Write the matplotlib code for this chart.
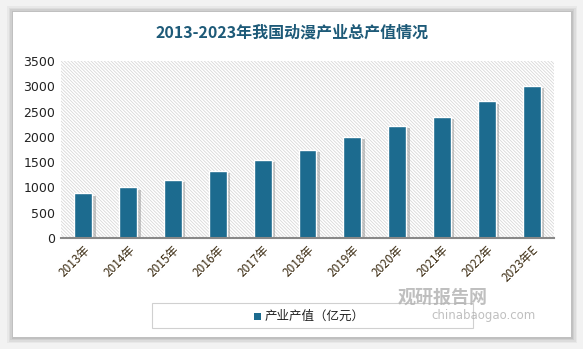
import matplotlib.pyplot as plt
from matplotlib.patches import Rectangle
import matplotlib.patheffects as pe

plt.rcParams['font.family'] = ['Noto Sans CJK SC', 'DejaVu Sans']
plt.rcParams['hatch.color'] = '#d8d8d8'
plt.rcParams['hatch.linewidth'] = 0.6

years = ['2013年', '2014年', '2015年', '2016年', '2017年', '2018年',
         '2019年', '2020年', '2021年', '2022年', '2023年E']
values = [880, 1000, 1140, 1320, 1536, 1750, 1990, 2210, 2390, 2700, 3000]
yticks = [0, 500, 1000, 1500, 2000, 2500, 3000, 3500]

bar_color = '#1c6b8f'

fig = plt.figure(figsize=(5.83, 3.49), dpi=100)
fig.patch.set_facecolor('#f2f2f2')

# white card with soft shadow
for i, a in enumerate([0.04, 0.05, 0.06, 0.07]):
    d = (4 - i) * 1.5
    fig.patches.append(Rectangle((13 / 583 - d / 583, 1 - 337 / 349 - d / 349),
                                 558 / 583 + 2 * d / 583, 325 / 349 + 2 * d / 349,
                                 transform=fig.transFigure, facecolor='#000000',
                                 alpha=a, edgecolor='none', zorder=-2))
fig.patches.append(Rectangle((13 / 583, 1 - 337 / 349), 558 / 583, 325 / 349,
                             transform=fig.transFigure, facecolor='white',
                             edgecolor='none', zorder=-1))

ax = fig.add_axes([61 / 583, 1 - 238 / 349, 493 / 583, 177 / 349])
ax.set_zorder(1)
ax.set_facecolor('white')
ax.add_patch(Rectangle((0, 0), 1, 1, transform=ax.transAxes, facecolor='white',
                       hatch='\\' * 10, edgecolor='#d8d8d8', linewidth=0, zorder=0))

x = list(range(len(years)))
bars = ax.bar(x, values, width=0.4, color=bar_color, edgecolor='white',
              linewidth=1.0, zorder=3)
for b in bars:
    b.set_path_effects([pe.SimplePatchShadow(offset=(2.5, -1.5), shadow_rgbFace='#888888', alpha=0.45),
                        pe.Normal()])

ax.set_xlim(-0.5, len(years) - 0.5)
ax.set_ylim(0, 3500)
ax.set_yticks(yticks)
ax.set_yticklabels([str(v) for v in yticks], fontsize=9, color='#222222',
                   family=['DejaVu Sans'])
ax.set_xticks(x)
ax.set_xticklabels(years, rotation=45, ha='right', va='top', fontsize=8.5,
                   color='#3a2a10', rotation_mode='anchor')
ax.tick_params(axis='both', length=0, pad=4)
for s in ['top', 'right', 'left']:
    ax.spines[s].set_visible(False)
ax.spines['bottom'].set_color('#888888')
ax.spines['bottom'].set_linewidth(1.5)
ax.spines['bottom'].set_zorder(4)

fig.text(292 / 583, 1 - 33 / 349, '2013-2023年我国动漫产业总产值情况', ha='center',
         va='center', fontsize=11.5, fontweight='bold', color='#1d5a78')

# legend box
fig.patches.append(Rectangle((152 / 583, 1 - 328 / 349), 321 / 583, 25 / 349,
                             transform=fig.transFigure, facecolor='white',
                             edgecolor='#d0d0d0', linewidth=0.8, zorder=5))
fig.patches.append(Rectangle((254 / 583, 1 - 320 / 349), 7 / 583, 7 / 349,
                             transform=fig.transFigure, facecolor=bar_color,
                             edgecolor='none', zorder=6))
fig.text(265 / 583, 1 - 316 / 349, '产业产值（亿元）', ha='left', va='center',
         fontsize=9, color='#222222', zorder=6)

# watermark
fig.text(443 / 583, 1 - 297 / 349, '观研报告网', ha='center', va='center',
         fontsize=13, fontweight='bold', color='#b0b0b0', alpha=0.8, zorder=7)
fig.text(483 / 583, 1 - 316 / 349, 'chinabaogao.com', ha='center', va='center',
         fontsize=8.5, color='#b0b0b0', alpha=0.8, zorder=7, family=['DejaVu Sans'])

fig.savefig('out.png', dpi=100, facecolor=fig.get_facecolor())
